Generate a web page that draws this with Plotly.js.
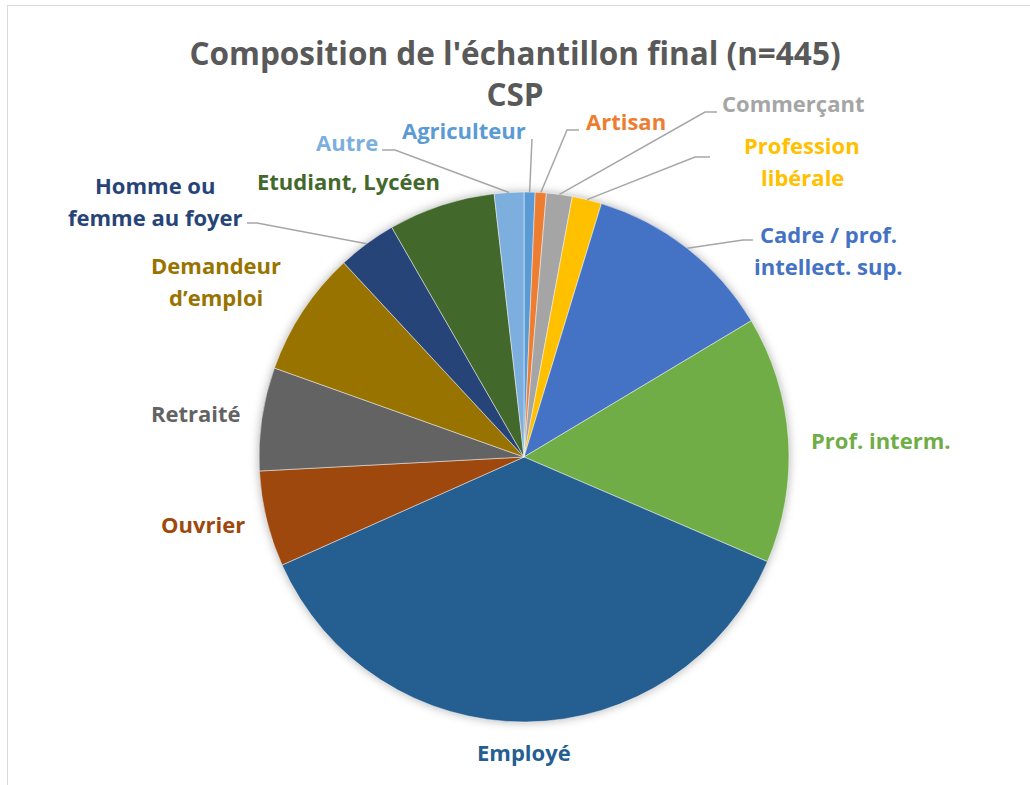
<!DOCTYPE html>
<html>
<head>
<meta charset="utf-8">
<script src="https://cdn.plot.ly/plotly-3.0.1.min.js"></script>
<style>
  html, body { margin: 0; padding: 0; background: #ffffff; }
  #chart { width: 1030px; height: 785px; position: relative; }
  #frame { position: absolute; left: 7px; top: 5px; width: 1040px; height: 800px; border: 1px solid #D9D9D9; pointer-events: none; }
  .pielayer .trace { filter: drop-shadow(0px 0px 5px rgba(0,0,0,0.30)); }
</style>
</head>
<body>
<div id="chart"></div>
<div id="frame"></div>
<script>
// ---- Data ----
const categories = ['Agriculteur', 'Artisan', 'Commerçant', 'Profession libérale',
  'Cadre / prof. intellect. sup.', 'Prof. interm.', 'Employé', 'Ouvrier', 'Retraité',
  'Demandeur d’emploi', 'Homme ou femme au foyer', 'Etudiant, Lycéen', 'Autre'];
const counts = [3, 3, 7, 8, 52, 67, 164, 26, 28, 34, 16, 29, 8];
const labelLines = [['Agriculteur'], ['Artisan'], ['Commerçant'], ['Profession', 'libérale'],
  ['Cadre / prof.', 'intellect. sup.'], ['Prof. interm.'], ['Employé'], ['Ouvrier'], ['Retraité'],
  ['Demandeur', 'd’emploi'], ['Homme ou', 'femme au foyer'], ['Etudiant, Lycéen'], ['Autre']];
const titleText = "Composition de l'échantillon final (n=445)<br>CSP";

// ---- Styles ----
const colors = ['#5B9BD5', '#ED7D31', '#A5A5A5', '#FFC000', '#4472C4', '#70AD47',
  '#255E91', '#9E480E', '#636363', '#997300', '#264478', '#43682B', '#7CAFDD'];
const labelColors = ['#5B9BD5', '#ED7D31', '#A5A5A5', '#FFC000', '#4472C4', '#70AD47',
  '#255E91', '#9E480E', '#636363', '#997300', '#264478', '#43682B', '#7CAFDD'];
const FONT = '"Open Sans", Lato, sans-serif';

// ---- Layout geometry (pixels in the 1030x785 page) ----
const L = 259, T = 192, S = 530;           // pie plot area
const LINE_GAP = 32;
// label positions: [x, y (centre of block), xanchor]
const labelPos = [
  [528, 130, 'right'], [584, 121, 'left'], [720, 103, 'left'], [802, 161, 'center'],
  [828, 250, 'center'], [881, 440, 'center'], [524, 752, 'center'], [203, 524, 'center'],
  [196, 413, 'center'], [216, 281, 'center'], [155, 201, 'center'], [348, 181, 'center'],
  [347, 142, 'center']
];
// leader line elbows: points from label side toward the pie (null = no line)
const leaderPts = [
  [[532, 139]],
  [[579, 130], [567, 130]],
  [[717, 112], [705, 112]],
  [[710, 157], [695, 157]],
  [[753, 240], [743, 240]],
  null, null, null, null, null,
  [[247, 223], [257, 223]],
  null,
  [[382, 150], [395, 150]]
];

const px = x => (x - L) / S;
const py = y => 1 - (y - T) / S;

const total = counts.reduce((a, b) => a + b, 0);
let cum = 0;
const shapes = [];
const annotations = [];
counts.forEach((c, i) => {
  const mid = 2 * Math.PI * (cum + c / 2) / total;
  cum += c;
  const [lx, ly, anc] = labelPos[i];
  const lines = labelLines[i];
  lines.forEach((t, k) => {
    const yy = ly + (k - (lines.length - 1) / 2) * LINE_GAP;
    annotations.push({
      xref: 'paper', yref: 'paper', x: px(lx), y: py(yy),
      xanchor: anc, yanchor: 'middle', align: 'center', showarrow: false,
      text: '<b>' + t + '</b>',
      font: { family: FONT, size: 22, color: labelColors[i] }
    });
  });
  if (leaderPts[i]) {
    const ax = 0.5 + 0.5 * Math.sin(mid);
    const ay = 0.5 + 0.5 * Math.cos(mid);
    let d = '';
    leaderPts[i].forEach((p, k) => { d += (k === 0 ? 'M ' : ' L ') + px(p[0]) + ' ' + py(p[1]); });
    d += ' L ' + ax + ' ' + ay;
    shapes.push({ type: 'path', xref: 'paper', yref: 'paper', path: d,
      line: { color: '#A6A6A6', width: 1.5 } });
  }
});

const data = [{
  type: 'pie',
  labels: categories,
  values: counts,
  sort: false,
  direction: 'clockwise',
  rotation: 0,
  textinfo: 'none',
  hoverinfo: 'label+value+percent',
  marker: { colors: colors, line: { color: 'rgba(255,255,255,0.6)', width: 0.8 } },
  domain: { x: [0, 1], y: [0, 1] }
}];

const layout = {
  width: 1030, height: 785,
  margin: { l: L, r: 1030 - L - S, t: T, b: 785 - T - S, pad: 0 },
  paper_bgcolor: '#ffffff',
  showlegend: false,
  title: {
    text: '<b>' + titleText + '</b>',
    font: { family: FONT, size: 31.5, color: '#595959' },
    x: 0.5, xref: 'container', xanchor: 'center',
    y: 1 - 65 / 785, yref: 'container', yanchor: 'middle'
  },
  shapes: shapes,
  annotations: annotations
};

Plotly.newPlot('chart', data, layout, { displayModeBar: false, staticPlot: true });
</script>
</body>
</html>
